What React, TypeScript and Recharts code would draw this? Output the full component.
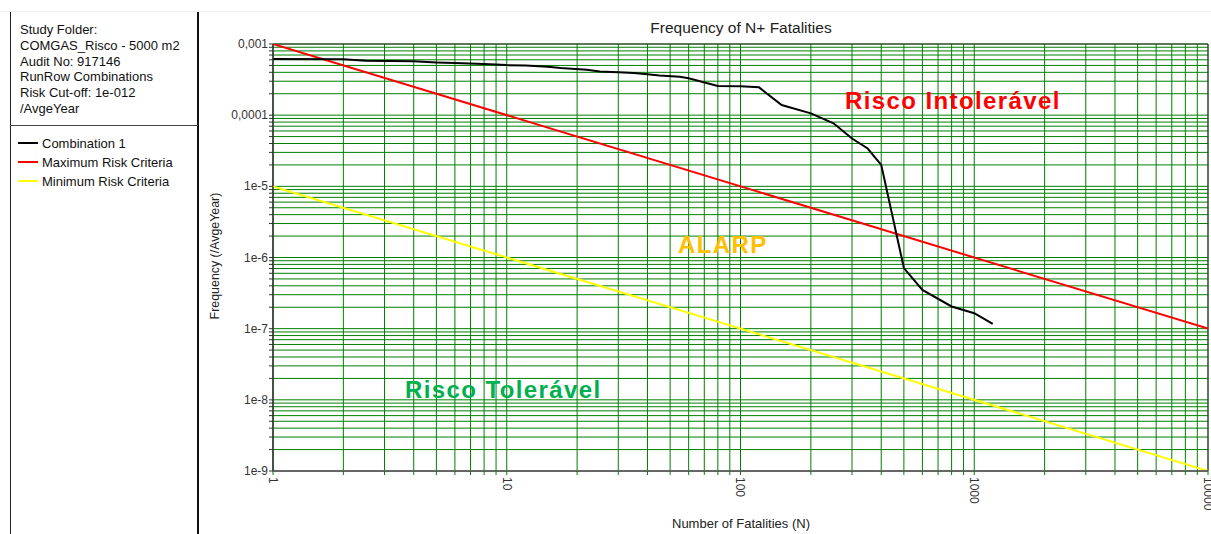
import { CartesianGrid, Line, LineChart, ReferenceArea, XAxis, YAxis } from "recharts"

const FONT = "Arial, 'Liberation Sans', sans-serif"
const GRID_GREEN = "#008000"

// N+ fatalities curve (Combination 1)
const CURVE_N = [1, 2, 2.5, 4, 5, 6, 8, 10, 12, 15, 17, 22, 25, 30, 35, 40, 45, 55, 60, 80, 100, 120, 150, 200, 250, 300, 350, 400, 500, 600, 800, 1000, 1200]
const CURVE_F = [
  6.15e-4, 6.1e-4, 5.8e-4, 5.7e-4, 5.5e-4, 5.4e-4, 5.25e-4, 5.05e-4, 5.0e-4, 4.8e-4, 4.6e-4,
  4.35e-4, 4.1e-4, 4.0e-4, 3.9e-4, 3.75e-4, 3.6e-4, 3.47e-4, 3.3e-4, 2.57e-4, 2.55e-4, 2.46e-4,
  1.39e-4, 1.06e-4, 7.7e-5, 4.7e-5, 3.4e-5, 2.0e-5, 7.1e-7, 3.5e-7, 2.05e-7, 1.65e-7, 1.17e-7,
]

// risk criteria lines (end points)
const MAX_N = [1, 10000]
const MAX_F = [1e-3, 1e-7]
const MIN_N = [1, 10000]
const MIN_F = [1e-5, 1e-9]

const X_TICKS = [
  1, 2, 3, 4, 5, 6, 7, 8, 9,
  10, 20, 30, 40, 50, 60, 70, 80, 90,
  100, 200, 300, 400, 500, 600, 700, 800, 900,
  1000, 2000, 3000, 4000, 5000, 6000, 7000, 8000, 9000,
  10000,
]
const X_DECADES = [1, 10, 100, 1000, 10000]
const X_LABELS = ["1", "10", "100", "1000", "10000"]

const Y_TICKS = [
  1e-9, 2e-9, 3e-9, 4e-9, 5e-9, 6e-9, 7e-9, 8e-9, 9e-9,
  1e-8, 2e-8, 3e-8, 4e-8, 5e-8, 6e-8, 7e-8, 8e-8, 9e-8,
  1e-7, 2e-7, 3e-7, 4e-7, 5e-7, 6e-7, 7e-7, 8e-7, 9e-7,
  1e-6, 2e-6, 3e-6, 4e-6, 5e-6, 6e-6, 7e-6, 8e-6, 9e-6,
  1e-5, 2e-5, 3e-5, 4e-5, 5e-5, 6e-5, 7e-5, 8e-5, 9e-5,
  1e-4, 2e-4, 3e-4, 4e-4, 5e-4, 6e-4, 7e-4, 8e-4, 9e-4,
  1e-3,
]
const Y_DECADES = [1e-9, 1e-8, 1e-7, 1e-6, 1e-5, 1e-4, 1e-3]
const Y_LABELS = ["1e-9", "1e-8", "1e-7", "1e-6", "1e-5", "0,0001", "0,001"]

const INFO_LINES = ["Study Folder:", "COMGAS_Risco - 5000 m2", "Audit No: 917146", "RunRow Combinations", "Risk Cut-off: 1e-012", "/AvgeYear"]
const LEGEND = [
  { name: "Combination 1", color: "#000000" },
  { name: "Maximum Risk Criteria", color: "#ff0000" },
  { name: "Minimum Risk Criteria", color: "#ffff00" },
]

const curveData = CURVE_N.map((n, i) => ({ n, f: CURVE_F[i] }))
const maxData = MAX_N.map((n, i) => ({ n, f: MAX_F[i] }))
const minData = MIN_N.map((n, i) => ({ n, f: MIN_F[i] }))

const findLabel = (v: number, decades: number[], labels: string[]) => {
  const i = decades.findIndex((d) => Math.abs(v - d) / d < 1e-6)
  return i >= 0 ? labels[i] : null
}

const XTick = (props: any) => {
  const lbl = findLabel(props.payload.value, X_DECADES, X_LABELS)
  if (!lbl) return <g />
  return (
    <text
      transform={`translate(${props.x},${props.y}) rotate(90)`}
      dy="0.35em"
      textAnchor="start"
      fontSize={12}
      fontFamily={FONT}
      fill="#333"
    >
      {lbl}
    </text>
  )
}

const YTick = (props: any) => {
  const lbl = findLabel(props.payload.value, Y_DECADES, Y_LABELS)
  if (!lbl) return <g />
  return (
    <text x={props.x} y={props.y} dy={4} textAnchor="end" fontSize={12} fontFamily={FONT} fill="#333">
      {lbl}
    </text>
  )
}

const abs = (s: React.CSSProperties): React.CSSProperties => ({ position: "absolute", ...s })

const bigText: React.CSSProperties = {
  position: "absolute",
  fontSize: 24,
  fontWeight: "bold",
  letterSpacing: 1.4,
  lineHeight: "28px",
  whiteSpace: "nowrap",
}

export default function App() {
  return (
    <div style={abs({ left: 0, top: 0, width: 1211, height: 534, background: "#fff", fontFamily: FONT, overflow: "hidden" })}>
      {/* left info panel */}
      <div style={abs({ left: 0, top: 11, width: 1211, height: 1, background: "#eeeeee" })} />
      <div style={abs({ left: 10, top: 12, width: 1, height: 522, background: "#222" })} />
      <div style={abs({ left: 197, top: 12, width: 2, height: 522, background: "#111" })} />
      <div style={abs({ left: 10, top: 125, width: 188, height: 1, background: "#444" })} />
      <div style={abs({ left: 20, top: 22, fontSize: 13, lineHeight: "15.8px", color: "#111" })}>
        {INFO_LINES.map((t) => (
          <div key={t} style={{ whiteSpace: "nowrap" }}>{t}</div>
        ))}
      </div>
      {LEGEND.map((l, i) => (
        <div key={l.name} style={abs({ left: 18, top: 134 + i * 19, height: 18, display: "flex", alignItems: "center" })}>
          <div style={{ width: 20, height: 2, background: l.color }} />
          <span style={{ marginLeft: 4, fontSize: 13, color: "#111", whiteSpace: "nowrap" }}>{l.name}</span>
        </div>
      ))}

      {/* chart */}
      <div style={abs({ left: 200, top: 0 })}>
        <LineChart width={1011} height={534} margin={{ top: 44, right: 3, bottom: 13, left: 13 }}>
          <CartesianGrid stroke={GRID_GREEN} strokeWidth={1} />
          <XAxis
            dataKey="n"
            type="number"
            scale="log"
            domain={[1, 10000]}
            ticks={X_TICKS}
            interval={0}
            allowDataOverflow
            height={50}
            tick={<XTick />}
            tickSize={4}
            tickMargin={2}
            tickLine={{ stroke: GRID_GREEN }}
            axisLine={{ stroke: "#666", strokeWidth: 2 }}
          />
          <YAxis
            dataKey="f"
            type="number"
            scale="log"
            domain={[1e-9, 1e-3]}
            ticks={Y_TICKS}
            interval={0}
            allowDataOverflow
            width={60}
            tick={<YTick />}
            tickSize={4}
            tickMargin={1}
            tickLine={{ stroke: "#333" }}
            axisLine={{ stroke: "#333" }}
          />
          <ReferenceArea x1={1} x2={10000} y1={1e-9} y2={1e-3} fill="none" stroke="#333" strokeWidth={1} />
          <Line data={minData} dataKey="f" stroke="#ffff00" strokeWidth={2} dot={false} isAnimationActive={false} />
          <Line data={maxData} dataKey="f" stroke="#ff0000" strokeWidth={2} dot={false} isAnimationActive={false} />
          <Line data={curveData} dataKey="f" stroke="#000000" strokeWidth={2} dot={false} isAnimationActive={false} />
        </LineChart>
      </div>

      {/* titles */}
      <div style={abs({ left: 541, top: 19, width: 400, textAlign: "center", fontSize: 15.5, lineHeight: "18px", color: "#222" })}>
        Frequency of N+ Fatalities
      </div>
      <div style={abs({ left: 741 - 150, top: 516, width: 300, textAlign: "center", fontSize: 13, lineHeight: "16px", color: "#222" })}>
        Number of Fatalities (N)
      </div>
      <div
        style={abs({
          left: 215 - 100,
          top: 256 - 8,
          width: 200,
          textAlign: "center",
          fontSize: 12.4,
          lineHeight: "16px",
          color: "#222",
          transform: "rotate(-90deg)",
        })}
      >
        Frequency (/AvgeYear)
      </div>

      {/* region labels */}
      <div style={{ ...bigText, left: 845, top: 87, color: "#ff0000" }}>Risco Intolerável</div>
      <div style={{ ...bigText, left: 678, top: 231, color: "#ffc000" }}>ALARP</div>
      <div style={{ ...bigText, left: 405, top: 376, color: "#00b050" }}>Risco Tolerável</div>
    </div>
  )
}
